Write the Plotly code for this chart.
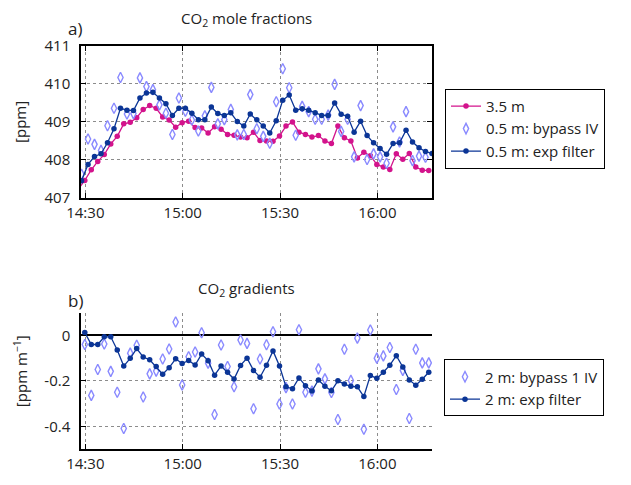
import plotly.graph_objects as go
from datetime import datetime, timedelta

# ---- data ----
t0_blue = datetime(2019, 1, 1, 14, 28, 50)
step = timedelta(minutes=2)

co2_05_exp = [407.45, 407.88, 408.09, 408.16, 408.45, 408.82, 409.36, 409.31, 409.30, 409.63,
              409.76, 409.78, 409.63, 409.48, 409.17, 409.36, 409.36, 409.23, 409.06, 409.06,
              409.39, 409.22, 409.17, 409.24, 409.01, 408.89, 409.21, 409.06, 408.89, 408.71,
              409.03, 409.57, 409.71, 409.31, 409.35, 409.31, 409.24, 409.17, 409.17, 409.50,
              409.20, 409.15, 408.73, 409.02, 408.64, 408.45, 408.30, 408.15, 408.43, 408.45,
              408.78, 408.47, 408.32, 408.22, 408.17]

co2_05_bypass = [407.62, 408.55, 408.41, 408.25, 408.90, 409.36, 410.17, 409.21, 409.22, 410.16,
                 409.93, 409.85, 409.45, 409.23, 408.67, 409.63, 409.28, 409.05, 408.76, 409.16,
                 409.91, 408.95, 409.06, 409.33, 408.66, 408.67, 409.72, 408.82, 408.62, 408.44,
                 409.53, 410.40, 409.90, 408.65, 409.41, 409.27, 409.07, 409.07, 409.18, 409.99,
                 408.75, 409.07, 408.08, 409.43, 408.01, 408.16, 408.08, 407.91, 408.87, 408.47,
                 409.27, 407.98, 408.10, 408.07, None]

co2_35 = [407.23, 407.46, 407.74, 407.96, 408.14, 408.42, 408.62, 408.95, 408.99, 409.11,
          409.33, 409.43, 409.36, 409.13, 409.05, 408.86, 408.98, 409.02, 408.85, 408.84,
          408.71, 408.87, 408.81, 408.67, 408.65, 408.60, 408.58, 408.73, 408.51, 408.50,
          408.49, 408.63, 408.89, 409.00, 408.73, 408.67, 408.60, 408.64, 408.50, 408.43,
          408.89, 408.58, 408.50, 408.05, 408.20, 408.11, 407.88, 407.81, 407.75, 408.16,
          408.02, 408.17, 407.81, 407.73, 407.72]

grad_exp = [0.013, -0.040, -0.040, -0.006, -0.006, -0.064, -0.135, -0.101, -0.058, -0.095,
            -0.107, -0.137, -0.171, -0.142, -0.103, -0.124, -0.110, -0.130, -0.082, -0.111,
            -0.175, -0.135, -0.162, -0.192, -0.132, -0.100, -0.154, -0.184, -0.131, -0.068,
            -0.135, -0.226, -0.235, -0.187, -0.221, -0.245, -0.196, -0.224, -0.244, -0.200,
            -0.214, -0.224, -0.226, -0.269, -0.176, -0.189, -0.162, -0.131, -0.089, -0.139,
            -0.196, -0.219, -0.193, -0.162]

grad_bypass = [-0.040, -0.264, -0.150, -0.038, -0.158, -0.250, -0.410, -0.078, -0.043, -0.271,
               -0.169, -0.157, -0.104, -0.060, 0.059, -0.218, -0.094, -0.073, 0.012, -0.122,
               -0.348, -0.042, -0.137, -0.226, -0.020, -0.035, -0.323, -0.104, -0.041, 0.016,
               -0.302, -0.230, -0.302, 0.025, -0.250, -0.245, -0.147, -0.191, -0.251, -0.370,
               -0.061, -0.198, -0.012, -0.413, 0.024, -0.100, -0.090, -0.053, -0.238, -0.154,
               -0.366, -0.061, -0.121, -0.121]

t_blue = [t0_blue + i * step for i in range(len(co2_05_exp))]
t_pink = [t0_blue - timedelta(minutes=1) + i * step for i in range(len(co2_35))]
t_grad = [t0_blue + timedelta(minutes=1) + i * step for i in range(len(grad_exp))]

PINK = "#d3138c"
BLUE = "#0b3596"
LAV = "#8a8aff"
FONT = "Open Sans"

x_range = [datetime(2019, 1, 1, 14, 28, 40), datetime(2019, 1, 1, 16, 16, 50)]

DIAMOND = dict(symbol="diamond-tall-open", color=LAV, size=7.5, line=dict(width=1.4))
DOT = 5.5

fig = go.Figure()

fig.add_trace(go.Scatter(x=t_pink, y=co2_35, mode="lines+markers", name="3.5 m",
                         line=dict(color=PINK, width=1.3), marker=dict(color=PINK, size=DOT),
                         xaxis="x", yaxis="y", legend="legend"))
fig.add_trace(go.Scatter(x=t_blue, y=co2_05_bypass, mode="markers", name="0.5 m: bypass IV",
                         marker=DIAMOND, xaxis="x", yaxis="y", legend="legend"))
fig.add_trace(go.Scatter(x=t_blue, y=co2_05_exp, mode="lines+markers", name="0.5 m: exp filter",
                         line=dict(color=BLUE, width=1.3), marker=dict(color=BLUE, size=DOT),
                         xaxis="x", yaxis="y", legend="legend"))

fig.add_trace(go.Scatter(x=t_grad, y=grad_bypass, mode="markers", name="2 m: bypass 1 IV",
                         marker=DIAMOND, xaxis="x2", yaxis="y2", legend="legend2"))
fig.add_trace(go.Scatter(x=t_grad, y=grad_exp, mode="lines+markers", name="2 m: exp filter",
                         line=dict(color=BLUE, width=1.3), marker=dict(color=BLUE, size=DOT),
                         xaxis="x2", yaxis="y2", legend="legend2"))

W, H = 631, 485
L, R, T, B = 81, 199, 46, 25
ph = H - T - B

def py(y):
    return (H - B - y) / ph

def px(x):
    return (x - L) / (W - L - R)

axis_common = dict(showgrid=True, gridcolor="#8c8c8c", griddash="dot", gridwidth=1,
                   ticks="inside", ticklen=5, tickcolor="black", linecolor="black", linewidth=1.5,
                   tickfont=dict(family=FONT, size=15, color="#222"), showline=True, zeroline=False)

fig.update_layout(
    width=W, height=H, margin=dict(l=L, r=R, t=T, b=B),
    paper_bgcolor="white", plot_bgcolor="white",
    font=dict(family=FONT, size=15, color="#222"),
    xaxis=dict(domain=[0, 1], anchor="y", type="date", range=x_range, tickformat="%H:%M",
               tick0="2019-01-01 14:30:00", dtick=1800000, mirror="ticks", **axis_common),
    yaxis=dict(domain=[py(202), 1], anchor="x", range=[407, 411], dtick=1, mirror="ticks",
               ticklabelstandoff=6, **axis_common),
    xaxis2=dict(domain=[0, 1], anchor="y2", type="date", range=x_range, tickformat="%H:%M",
                tick0="2019-01-01 14:30:00", dtick=1800000, **axis_common),
    yaxis2=dict(domain=[0, py(320)], anchor="x2", range=[-0.5, 0.1],
                tickvals=[-0.4, -0.2, 0], ticktext=["-0.4", "-0.2", "0"],
                ticklabelstandoff=6, **axis_common),
    legend=dict(x=px(445), y=py(90), xanchor="left", yanchor="top", bordercolor="black",
                borderwidth=1, bgcolor="white", font=dict(family=FONT, size=15, color="#222"),
                tracegroupgap=0, itemwidth=30),
    legend2=dict(x=px(444), y=py(368), xanchor="left", yanchor="top", bordercolor="black",
                 borderwidth=1, bgcolor="white", font=dict(family=FONT, size=15, color="#222"),
                 tracegroupgap=0, itemwidth=30),
)
fig.layout.yaxis2.zeroline = True
fig.layout.yaxis2.zerolinecolor = "black"
fig.layout.yaxis2.zerolinewidth = 1.5

for txt, yy in (("a)", 28), ("b)", 307)):
    fig.add_annotation(text=txt, x=px(66), y=py(yy), xref="paper", yref="paper",
                       xanchor="left", yanchor="middle", showarrow=False,
                       font=dict(family=FONT, size=17, color="#222"))
fig.add_annotation(text="CO<sub>2</sub> mole fractions", x=px(246), y=py(18), xref="paper", yref="paper",
                   xanchor="center", yanchor="middle", showarrow=False,
                   font=dict(family=FONT, size=15, color="#222"))
fig.add_annotation(text="CO<sub>2</sub> gradients", x=px(246), y=py(296), xref="paper", yref="paper",
                   xanchor="center", yanchor="middle", showarrow=False,
                   font=dict(family=FONT, size=15, color="#222"))
fig.add_annotation(text="[ppm]", x=px(20), y=py(124), xref="paper", yref="paper",
                   xanchor="center", yanchor="middle", textangle=-90, showarrow=False,
                   font=dict(family=FONT, size=15, color="#222"))
fig.add_annotation(text="[ppm m<sup>\u22121</sup>]", x=px(20), y=py(380), xref="paper", yref="paper",
                   xanchor="center", yanchor="middle", textangle=-90, showarrow=False,
                   font=dict(family=FONT, size=15, color="#222"))

fig.write_html("out.html")
